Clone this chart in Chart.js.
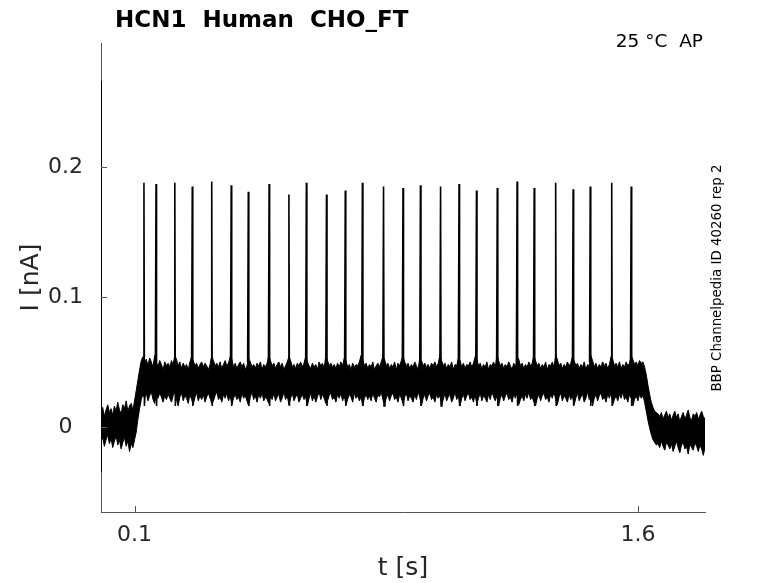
<!DOCTYPE html>
<html>
<head>
<meta charset="utf-8">
<script src="https://cdn.jsdelivr.net/npm/chart.js@4"></script>
<style>
  html, body { margin: 0; padding: 0; background: #fff; }
  #wrap { width: 778px; height: 583px; position: relative; }
</style>
</head>
<body>
<div id="wrap"><canvas id="c" width="778" height="583"></canvas></div>
<script>
// ---------- data ----------
const titleText = "HCN1  Human  CHO_FT";
const conditionText = "25 °C  AP";
const sourceText = "BBP Channelpedia ID 40260 rep 2";
const xTicks = [0.1, 1.6];
const yTicks = [0, 0.1, 0.2];
const xLimits = [0, 1.8];
const yLimits = [-0.0656, 0.2956];

// noise band envelope (upper / lower edge), sampled every 5 ms from t = 0
const envStep = 0.005;
const upperEnv = [
  0.010,0.015,0.008,0.013,0.017,0.011,0.014,0.009,0.016,0.012,0.019,0.013,0.010,0.017,0.014,0.020,0.012,0.016,0.018,0.013,
  0.020,0.028,0.036,0.044,0.051,0.054,0.049,0.052,0.047,0.053,0.050,0.046,0.055,0.049,0.047,0.051,0.048,0.044,0.050,0.047,
  0.049,0.046,0.051,0.048,0.055,0.052,0.047,0.050,0.045,0.049,0.046,0.048,0.044,0.050,0.054,0.051,0.047,0.049,0.045,0.048,
  0.050,0.046,0.049,0.047,0.044,0.048,0.055,0.051,0.047,0.049,0.046,0.050,0.045,0.048,0.051,0.047,0.049,0.054,0.052,0.046,
  0.049,0.045,0.048,0.050,0.046,0.049,0.044,0.047,0.053,0.050,0.046,0.048,0.045,0.049,0.047,0.050,0.044,0.048,0.046,0.049,
  0.055,0.051,0.047,0.049,0.045,0.048,0.050,0.046,0.049,0.044,0.047,0.050,0.054,0.051,0.046,0.048,0.045,0.049,0.047,0.050,
  0.046,0.049,0.054,0.050,0.047,0.045,0.049,0.046,0.048,0.044,0.050,0.047,0.049,0.045,0.055,0.051,0.047,0.049,0.046,0.048,
  0.045,0.049,0.046,0.050,0.047,0.053,0.051,0.046,0.048,0.044,0.049,0.046,0.048,0.047,0.050,0.055,0.052,0.047,0.049,0.045,
  0.048,0.046,0.050,0.044,0.047,0.049,0.046,0.050,0.054,0.052,0.047,0.049,0.045,0.048,0.046,0.050,0.044,0.049,0.047,0.051,
  0.055,0.050,0.047,0.049,0.045,0.048,0.046,0.050,0.047,0.044,0.053,0.051,0.047,0.049,0.046,0.048,0.045,0.049,0.047,0.050,
  0.046,0.049,0.055,0.051,0.047,0.049,0.045,0.048,0.046,0.050,0.044,0.048,0.047,0.053,0.051,0.046,0.049,0.045,0.048,0.047,
  0.050,0.046,0.049,0.054,0.052,0.047,0.049,0.045,0.048,0.046,0.050,0.044,0.048,0.047,0.050,0.046,0.055,0.051,0.047,0.049,
  0.045,0.048,0.046,0.050,0.047,0.044,0.049,0.046,0.054,0.052,0.047,0.049,0.045,0.048,0.046,0.050,0.047,0.049,0.055,0.051,
  0.047,0.049,0.045,0.048,0.046,0.050,0.044,0.048,0.047,0.050,0.046,0.055,0.052,0.047,0.049,0.045,0.048,0.046,0.050,0.047,
  0.049,0.054,0.051,0.047,0.049,0.045,0.048,0.046,0.050,0.044,0.048,0.047,0.055,0.051,0.046,0.049,0.045,0.048,0.046,0.050,
  0.047,0.049,0.045,0.048,0.054,0.052,0.047,0.049,0.046,0.050,0.045,0.048,0.046,0.050,0.047,0.049,0.055,0.052,0.048,0.050,
  0.047,0.051,0.049,0.050,0.046,0.040,0.032,0.025,0.019,0.015,0.012,0.011,0.010,0.008,0.011,0.006,0.009,0.012,0.007,0.010,
  0.005,0.009,0.012,0.007,0.010,0.004,0.008,0.011,0.006,0.009,0.013,0.007,0.005,0.010,0.008,0.011,0.006,0.009,0.012,0.008,
  0.006
];
const lowerEnv = [
  -0.012,-0.008,-0.015,-0.010,-0.006,-0.013,-0.009,-0.016,-0.011,-0.007,-0.014,-0.010,-0.017,-0.012,-0.008,-0.015,-0.011,-0.019,-0.013,-0.016,
  -0.010,-0.004,0.006,0.014,0.021,0.025,0.022,0.026,0.020,0.024,0.027,0.021,0.018,0.025,0.022,0.026,0.023,0.019,0.024,0.021,
  0.025,0.022,0.019,0.024,0.027,0.021,0.016,0.023,0.026,0.020,0.024,0.022,0.018,0.025,0.021,0.017,0.023,0.026,0.020,0.024,
  0.021,0.025,0.019,0.023,0.026,0.022,0.018,0.020,0.024,0.027,0.021,0.023,0.019,0.025,0.022,0.026,0.020,0.024,0.017,0.022,
  0.025,0.021,0.023,0.019,0.026,0.022,0.024,0.020,0.016,0.023,0.027,0.021,0.024,0.019,0.025,0.022,0.026,0.020,0.023,0.021,
  0.018,0.024,0.021,0.026,0.020,0.023,0.025,0.019,0.022,0.027,0.021,0.024,0.017,0.022,0.026,0.020,0.023,0.025,0.019,0.022,
  0.025,0.021,0.023,0.016,0.022,0.026,0.020,0.024,0.019,0.023,0.027,0.021,0.025,0.022,0.018,0.020,0.024,0.026,0.021,0.023,
  0.019,0.025,0.022,0.026,0.020,0.024,0.017,0.021,0.025,0.023,0.019,0.026,0.022,0.024,0.020,0.023,0.016,0.022,0.025,0.021,
  0.024,0.020,0.026,0.022,0.019,0.025,0.023,0.027,0.021,0.017,0.022,0.025,0.020,0.024,0.026,0.021,0.023,0.019,0.025,0.022,
  0.018,0.023,0.026,0.020,0.024,0.022,0.019,0.025,0.021,0.027,0.023,0.016,0.022,0.025,0.020,0.024,0.026,0.021,0.023,0.019,
  0.025,0.022,0.024,0.017,0.021,0.026,0.020,0.023,0.025,0.019,0.022,0.027,0.021,0.024,0.016,0.022,0.025,0.020,0.024,0.026,
  0.021,0.023,0.019,0.025,0.017,0.022,0.026,0.020,0.024,0.022,0.019,0.025,0.021,0.027,0.023,0.020,0.024,0.016,0.022,0.025,
  0.020,0.024,0.026,0.021,0.023,0.019,0.025,0.022,0.026,0.017,0.021,0.024,0.020,0.025,0.022,0.027,0.021,0.023,0.019,0.016,
  0.022,0.025,0.020,0.024,0.026,0.021,0.023,0.019,0.025,0.022,0.027,0.021,0.017,0.023,0.026,0.020,0.024,0.022,0.019,0.025,
  0.021,0.024,0.017,0.022,0.026,0.020,0.023,0.025,0.019,0.022,0.027,0.021,0.024,0.016,0.022,0.025,0.020,0.024,0.026,0.021,
  0.023,0.019,0.025,0.022,0.026,0.017,0.021,0.024,0.020,0.025,0.022,0.027,0.021,0.023,0.019,0.025,0.022,0.016,0.021,0.024,
  0.020,0.025,0.022,0.024,0.019,0.012,0.005,-0.001,-0.006,-0.010,-0.012,-0.014,-0.013,-0.016,-0.011,-0.015,-0.018,-0.012,-0.014,-0.017,
  -0.013,-0.019,-0.015,-0.011,-0.016,-0.020,-0.014,-0.012,-0.017,-0.015,-0.021,-0.013,-0.016,-0.018,-0.012,-0.015,-0.019,-0.014,-0.017,-0.022,
  -0.016
];

// action-potential spikes
const spikeTimes = [0.128,0.164,0.220,0.272,0.330,0.388,0.439,0.501,0.560,0.612,
  0.672,0.728,0.779,0.842,0.900,0.952,1.012,1.067,1.119,1.181,
  1.240,1.291,1.355,1.407,1.458,1.522,1.580];
const spikePeaks = [0.188,0.187,0.188,0.185,0.189,0.186,0.181,0.187,0.179,0.188,
  0.179,0.182,0.188,0.185,0.184,0.186,0.185,0.187,0.182,0.184,
  0.189,0.184,0.188,0.183,0.185,0.188,0.185];
const spikeBase = 0.050;   // band top at spike onset
const spikeDip = 0.016;    // after-spike undershoot
const spikeRecover = 0.034;

// capacitive transient at t = 0
const transientT = [0.0003, 0.0006, 0.0010, 0.0015, 0.0020];
const transientI = [0.266, -0.035, 0.040, -0.020, 0.010];

// ---------- build datasets ----------
const upperPts = upperEnv.map((v, i) => ({ x: +(i * envStep).toFixed(4), y: v }));
const lowerPts = lowerEnv.map((v, i) => ({ x: +(i * envStep).toFixed(4), y: v }));
const spikePts = [];
spikeTimes.forEach((t, k) => {
  spikePts.push({ x: t - 0.002, y: spikeBase });
  spikePts.push({ x: t, y: spikePeaks[k] });
  spikePts.push({ x: t + 0.0015, y: spikeDip });
  spikePts.push({ x: t + 0.004, y: spikeRecover });
  spikePts.push({ x: t + 0.0045, y: null });
});
const transientPts = transientT.map((t, i) => ({ x: t, y: transientI[i] }));

const AXIS_COLOR = '#555555';
const TEXT_COLOR = '#262626';
Chart.defaults.font.family = "'DejaVu Sans', sans-serif";

const decorPlugin = {
  id: 'decor',
  afterDraw(chart) {
    const ctx = chart.ctx;
    const xs = chart.scales.x, ys = chart.scales.y;
    const area = chart.chartArea;
    ctx.save();
    // inward tick marks
    ctx.strokeStyle = AXIS_COLOR;
    ctx.lineWidth = 1;
    ctx.beginPath();
    xTicks.forEach(v => {
      const px = Math.round(xs.getPixelForValue(v)) + 0.5;
      ctx.moveTo(px, area.bottom);
      ctx.lineTo(px, area.bottom - 6);
    });
    yTicks.forEach(v => {
      const py = Math.round(ys.getPixelForValue(v)) + 0.5;
      ctx.moveTo(area.left, py);
      ctx.lineTo(area.left + 6, py);
    });
    ctx.stroke();
    // title
    ctx.fillStyle = '#000';
    ctx.font = "bold 23px 'DejaVu Sans'";
    ctx.textAlign = 'left';
    ctx.textBaseline = 'alphabetic';
    ctx.fillText(titleText, 115, 27);
    // condition
    ctx.font = "18.5px 'DejaVu Sans'";
    ctx.textAlign = 'right';
    ctx.fillText(conditionText, 703, 47);
    // source, rotated
    ctx.font = "13.4px 'DejaVu Sans'";
    ctx.translate(721, 278);
    ctx.rotate(-Math.PI / 2);
    ctx.textAlign = 'center';
    ctx.fillText(sourceText, 0, 0);
    ctx.restore();
  }
};

new Chart(document.getElementById('c'), {
  type: 'line',
  data: {
    datasets: [
      { data: upperPts, borderColor: '#000', backgroundColor: '#000', borderWidth: 1,
        fill: '+1', pointRadius: 0, tension: 0 },
      { data: lowerPts, borderColor: '#000', backgroundColor: '#000', borderWidth: 1,
        fill: false, pointRadius: 0, tension: 0 },
      { data: spikePts, borderColor: '#000', borderWidth: 1.6, fill: false,
        pointRadius: 0, tension: 0, spanGaps: false },
      { data: transientPts, borderColor: '#000', borderWidth: 1, fill: false,
        pointRadius: 0, tension: 0 }
    ]
  },
  options: {
    responsive: false,
    animation: false,
    devicePixelRatio: 1,
    layout: { padding: { top: 43, right: 73, left: 0, bottom: 0 } },
    plugins: { legend: { display: false }, title: { display: false }, tooltip: { enabled: false } },
    scales: {
      x: {
        type: 'linear', min: xLimits[0], max: xLimits[1],
        afterFit(s) { s.height = 71; },
        afterBuildTicks(s) { s.ticks = xTicks.map(v => ({ value: v })); },
        grid: { display: true, drawOnChartArea: false, drawTicks: false },
        border: { display: true, color: AXIS_COLOR, width: 1 },
        ticks: { color: TEXT_COLOR, font: { size: 22 }, padding: 10, maxRotation: 0,
                 callback: v => String(v) },
        title: { display: true, text: 't [s]', color: TEXT_COLOR, font: { size: 25 },
                 padding: { top: 0, bottom: 0 } }
      },
      y: {
        type: 'linear', min: yLimits[0], max: yLimits[1],
        afterFit(s) { s.width = 101; },
        afterBuildTicks(s) { s.ticks = yTicks.map(v => ({ value: v })); },
        grid: { display: true, drawOnChartArea: false, drawTicks: false },
        border: { display: true, color: AXIS_COLOR, width: 1 },
        ticks: { color: TEXT_COLOR, font: { size: 22 }, padding: 18, crossAlign: 'center',
                 callback: v => String(v) },
        title: { display: true, text: 'I [nA]', color: TEXT_COLOR, font: { size: 25 },
                 padding: { top: 16, bottom: 0 } }
      }
    }
  },
  plugins: [decorPlugin]
});
</script>
</body>
</html>
